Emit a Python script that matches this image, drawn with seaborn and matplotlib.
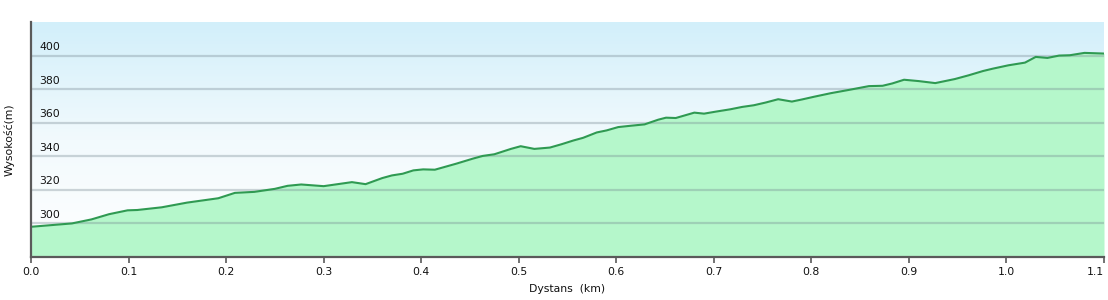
import numpy as np
import matplotlib
matplotlib.use("Agg")
import matplotlib.pyplot as plt
import matplotlib.transforms as mtransforms
from matplotlib.colors import LinearSegmentedColormap
import seaborn as sns
import pandas as pd

# ---- data ----
distance_km = [0.000, 0.042, 0.062, 0.080, 0.099, 0.109, 0.134, 0.160, 0.192, 0.209,
               0.229, 0.250, 0.263, 0.277, 0.300, 0.329, 0.343, 0.360, 0.370, 0.381,
               0.392, 0.402, 0.414, 0.436, 0.453, 0.463, 0.475, 0.492, 0.502, 0.516,
               0.532, 0.544, 0.556, 0.566, 0.580, 0.590, 0.602, 0.615, 0.629, 0.643,
               0.651, 0.661, 0.680, 0.690, 0.702, 0.717, 0.729, 0.741, 0.753, 0.766,
               0.780, 0.790, 0.803, 0.820, 0.839, 0.859, 0.873, 0.883, 0.895, 0.910,
               0.927, 0.947, 0.961, 0.976, 0.986, 1.002, 1.019, 1.030, 1.042, 1.054,
               1.065, 1.080, 1.100]
elevation_m = [298.0, 300.0, 302.4, 305.5, 307.8, 308.0, 309.6, 312.4, 315.0, 318.2,
               318.8, 320.6, 322.4, 323.2, 322.2, 324.6, 323.4, 327.0, 328.6, 329.6,
               331.6, 332.2, 332.0, 335.6, 338.6, 340.2, 341.2, 344.4, 346.0, 344.4,
               345.2, 347.2, 349.4, 351.0, 354.2, 355.4, 357.4, 358.2, 359.0, 361.8,
               363.0, 362.8, 366.0, 365.4, 366.6, 368.0, 369.4, 370.4, 372.0, 374.0,
               372.6, 373.8, 375.5, 377.6, 379.6, 381.8, 382.0, 383.4, 385.6, 384.8,
               383.6, 386.0, 388.2, 390.8, 392.2, 394.2, 395.8, 399.2, 398.6, 400.0,
               400.2, 401.6, 401.2]
x_ticks = [0.0, 0.1, 0.2, 0.3, 0.4, 0.5, 0.6, 0.7, 0.8, 0.9, 1.0, 1.1]
y_ticks = [300, 320, 340, 360, 380, 400]
x_label = "Dystans  (km)"
y_label = "Wysokość(m)"

df = pd.DataFrame({"d": distance_km, "e": elevation_m})

sns.set_theme(style="white")
plt.rcParams['font.family'] = ['DejaVu Sans']

fig = plt.figure(figsize=(11.08, 3.0), dpi=100)
ax = fig.add_axes([31/1108, 1 - 257/300, (1104 - 31)/1108, (257 - 22)/300])

ymin, ymax = 280, 420
xmin, xmax = 0.0, 1.1

# gradient sky background
cmap = LinearSegmentedColormap.from_list("sky", ["#ffffff", "#f2fafd", "#d2effa"])
grad = np.linspace(0, 1, 256).reshape(-1, 1)
ax.imshow(grad, cmap=cmap, aspect="auto", origin="lower",
          extent=[xmin, xmax, ymin, ymax], zorder=0)

# fill and line
ax.fill_between(df["d"], df["e"], ymin, color="#b5f7cb", zorder=1, linewidth=0)
sns.lineplot(data=df, x="d", y="e", ax=ax, color="#2f9a52", linewidth=1.5, zorder=3)

ax.set_xlim(xmin, xmax)
ax.set_ylim(ymin, ymax)

# grid
for yv in y_ticks:
    ax.axhline(yv, color=(0.45, 0.52, 0.56, 0.34), linewidth=1.6, zorder=2)

# spines
for s in ["top", "right"]:
    ax.spines[s].set_visible(False)
for s in ["left", "bottom"]:
    ax.spines[s].set_color("#5a5a5a")
    ax.spines[s].set_linewidth(1.6)
    ax.spines[s].set_zorder(5)

ax.set_xticks(x_ticks)
ax.set_xticklabels([f"{v:.1f}" for v in x_ticks])
ax.tick_params(axis="x", direction="out", length=4, width=1.2, color="#5a5a5a",
               labelsize=7.8, pad=3, labelcolor="#111111", bottom=True)
ax.get_xticklabels()[-1].set_horizontalalignment("right")

ax.set_yticks(y_ticks)
ax.set_yticklabels([str(v) for v in y_ticks])
ax.tick_params(axis="y", length=0, pad=-6, labelsize=7.8, labelcolor="#111111", left=True)
offset = mtransforms.ScaledTranslation(0, 2.5/72, fig.dpi_scale_trans)
for lab in ax.get_yticklabels():
    lab.set_horizontalalignment("left")
    lab.set_verticalalignment("bottom")
    lab.set_transform(lab.get_transform() + offset)
    lab.set_zorder(6)

ax.set_xlabel(x_label, fontsize=7.8, color="#111111", labelpad=5)
ax.set_ylabel(y_label, fontsize=7.8, color="#111111")
ax.yaxis.set_label_coords(-16/1073, 0.5)
ax.grid(False)

fig.savefig("out.png", dpi=100, facecolor="white")
